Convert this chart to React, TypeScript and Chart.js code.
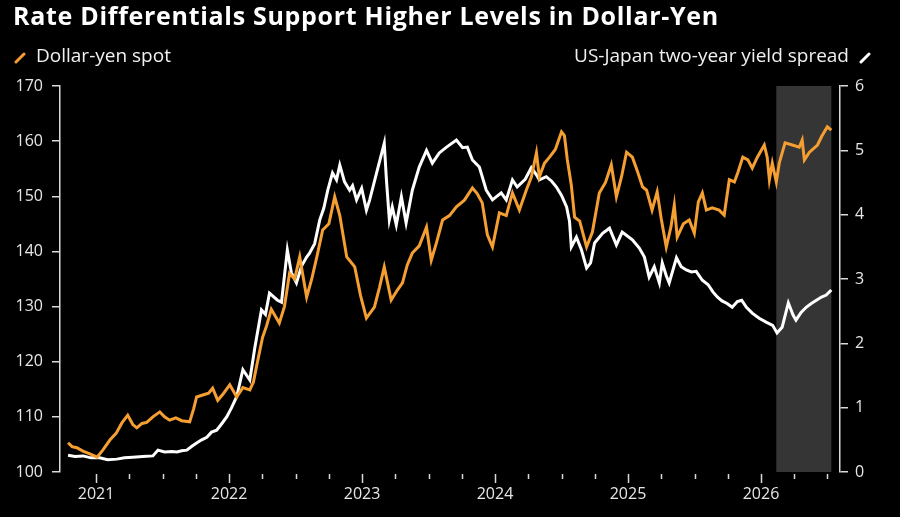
import React, { useEffect, useRef } from "react";
import { Chart, registerables } from "chart.js";

Chart.register(...registerables);

const TITLE = "Rate Differentials Support Higher Levels in Dollar-Yen";
const LEFT_LEGEND = "Dollar-yen spot";
const RIGHT_LEGEND = "US-Japan two-year yield spread";

const ORANGE = "#f59f32";
const WHITE = "#ffffff";
const FONT = "'Open Sans', 'Noto Sans', sans-serif";

// Dollar-yen spot (left axis)
const usdJpyDates = [
  "2020-10-16", "2020-10-27", "2020-11-09", "2020-11-26", "2020-12-15", "2021-01-04", "2021-01-20",
  "2021-02-08", "2021-02-25", "2021-03-13", "2021-03-29", "2021-04-12", "2021-04-23", "2021-05-07",
  "2021-05-20", "2021-06-06", "2021-06-25", "2021-07-08", "2021-07-22", "2021-08-08", "2021-08-24",
  "2021-09-15", "2021-09-26", "2021-10-04", "2021-10-23", "2021-11-06", "2021-11-17", "2021-12-01",
  "2021-12-14", "2022-01-03", "2022-01-22", "2022-02-08", "2022-02-27", "2022-03-09", "2022-03-17",
  "2022-04-03", "2022-04-14", "2022-04-27", "2022-05-19", "2022-06-02", "2022-06-16", "2022-06-30",
  "2022-07-14", "2022-08-02", "2022-08-16", "2022-08-30", "2022-09-15", "2022-10-02", "2022-10-18",
  "2022-11-01", "2022-11-20", "2022-12-12", "2022-12-28", "2023-01-13", "2023-02-04", "2023-02-18",
  "2023-03-03", "2023-03-22", "2023-04-08", "2023-04-22", "2023-05-05", "2023-05-19", "2023-06-07",
  "2023-06-27", "2023-07-10", "2023-07-24", "2023-08-10", "2023-08-29", "2023-09-17", "2023-10-09",
  "2023-10-31", "2023-11-13", "2023-11-27", "2023-12-11", "2023-12-25", "2024-01-13", "2024-02-01",
  "2024-02-18", "2024-03-08", "2024-03-27", "2024-04-10", "2024-04-24", "2024-05-02", "2024-05-16",
  "2024-05-30", "2024-06-15", "2024-07-02", "2024-07-10", "2024-07-18", "2024-07-29", "2024-08-07",
  "2024-08-21", "2024-09-09", "2024-09-25", "2024-10-14", "2024-10-31", "2024-11-16", "2024-11-30",
  "2024-12-14", "2024-12-28", "2025-01-13", "2025-01-27", "2025-02-10", "2025-02-21", "2025-03-08",
  "2025-03-22", "2025-04-02", "2025-04-16", "2025-04-29", "2025-05-08", "2025-05-16", "2025-06-02",
  "2025-06-18", "2025-07-02", "2025-07-13", "2025-07-24", "2025-08-04", "2025-08-20", "2025-09-08",
  "2025-09-22", "2025-10-06", "2025-10-20", "2025-10-30", "2025-11-12", "2025-11-26", "2025-12-08",
  "2025-12-22", "2026-01-10", "2026-01-18", "2026-01-24", "2026-02-01", "2026-02-12", "2026-02-20",
  "2026-03-08", "2026-03-28", "2026-04-16", "2026-04-24", "2026-04-30", "2026-05-14", "2026-06-05",
  "2026-06-16", "2026-07-02", "2026-07-13",
];
const usdJpyValues = [
  105.3, 104.6, 104.4, 103.8, 103.3, 102.7, 104.0,
  105.8, 107.0, 108.9, 110.3, 108.6, 108.0, 108.8,
  109.0, 110.0, 110.9, 110.0, 109.4, 109.8, 109.3,
  109.1, 111.5, 113.6, 114.0, 114.3, 115.2, 113.0,
  114.0, 115.8, 113.6, 115.3, 114.9, 116.3, 119.0,
  124.4, 126.5, 129.5, 127.0, 130.0, 136.0, 135.0,
  139.0, 131.7, 135.0, 139.0, 143.9, 145.0, 149.9,
  146.5, 139.0, 137.2, 132.0, 127.9, 129.9, 133.5,
  137.2, 131.2, 133.0, 134.3, 137.5, 139.7, 141.0,
  144.4, 138.4, 141.5, 145.7, 146.5, 148.1, 149.3,
  151.5, 150.5, 148.8, 143.0, 140.8, 147.0, 146.5,
  150.6, 147.5, 151.1, 153.5, 157.9, 153.5, 156.0,
  157.1, 158.5, 161.7, 161.0, 156.6, 152.0, 146.2,
  145.5, 140.8, 143.5, 150.6, 152.5, 155.7, 149.9,
  153.5, 158.0, 157.1, 154.5, 151.7, 151.1, 147.5,
  150.8, 146.0, 140.8, 144.5, 148.4, 142.6, 145.0,
  145.7, 143.3, 149.0, 150.6, 147.5, 147.9, 147.5,
  146.6, 153.0, 152.6, 154.4, 157.1, 156.6, 155.1,
  157.1, 159.3, 157.1, 153.0, 156.0, 152.6, 156.0,
  159.7, 159.3, 158.9, 160.2, 156.6, 158.0, 159.3,
  160.8, 162.6, 162.0,
];

// US-Japan two-year yield spread (right axis, percentage points)
const spreadDates = [
  "2020-10-16", "2020-11-04", "2020-11-26", "2020-12-18", "2021-01-11", "2021-02-02", "2021-02-27",
  "2021-03-20", "2021-04-12", "2021-05-09", "2021-06-06", "2021-06-20", "2021-07-08", "2021-07-28",
  "2021-08-11", "2021-08-24", "2021-09-07", "2021-09-21", "2021-10-04", "2021-10-18", "2021-11-01",
  "2021-11-14", "2021-11-28", "2021-12-12", "2021-12-26", "2022-01-08", "2022-01-22", "2022-02-08",
  "2022-02-27", "2022-03-13", "2022-03-31", "2022-04-11", "2022-04-22", "2022-05-14", "2022-05-25",
  "2022-06-10", "2022-06-21", "2022-07-05", "2022-07-19", "2022-08-02", "2022-08-10", "2022-08-24",
  "2022-09-07", "2022-09-18", "2022-09-29", "2022-10-12", "2022-10-23", "2022-11-01", "2022-11-14",
  "2022-11-28", "2022-12-06", "2022-12-17", "2022-12-31", "2023-01-13", "2023-01-22", "2023-02-10",
  "2023-03-03", "2023-03-09", "2023-03-17", "2023-03-25", "2023-04-05", "2023-04-19", "2023-05-02",
  "2023-05-19", "2023-06-07", "2023-06-27", "2023-07-13", "2023-08-01", "2023-08-21", "2023-09-17",
  "2023-10-04", "2023-10-17", "2023-10-31", "2023-11-19", "2023-12-08", "2023-12-25", "2024-01-18",
  "2024-02-01", "2024-02-18", "2024-03-02", "2024-03-24", "2024-04-10", "2024-04-24", "2024-05-02",
  "2024-05-21", "2024-06-05", "2024-06-18", "2024-07-02", "2024-07-16", "2024-07-24", "2024-07-29",
  "2024-08-12", "2024-08-26", "2024-09-09", "2024-09-20", "2024-10-01", "2024-10-23", "2024-11-11",
  "2024-11-30", "2024-12-16", "2025-01-01", "2025-01-13", "2025-02-01", "2025-02-15", "2025-02-28",
  "2025-03-14", "2025-03-28", "2025-04-05", "2025-04-16", "2025-04-24", "2025-05-14", "2025-05-27",
  "2025-06-10", "2025-06-24", "2025-07-07", "2025-07-24", "2025-08-09", "2025-08-22", "2025-09-03",
  "2025-09-16", "2025-09-30", "2025-10-14", "2025-10-28", "2025-11-09", "2025-11-22", "2025-12-08",
  "2025-12-27", "2026-01-15", "2026-02-02", "2026-02-14", "2026-02-28", "2026-03-17", "2026-03-30",
  "2026-04-07", "2026-04-21", "2026-05-05", "2026-05-19", "2026-06-02", "2026-06-16", "2026-06-29",
  "2026-07-13",
];
const spreadValues = [
  0.26, 0.24, 0.25, 0.22, 0.22, 0.19, 0.2,
  0.22, 0.23, 0.24, 0.25, 0.34, 0.31, 0.32,
  0.31, 0.33, 0.34, 0.4, 0.45, 0.5, 0.54,
  0.62, 0.65, 0.75, 0.86, 1.0, 1.17, 1.59,
  1.43, 1.94, 2.52, 2.45, 2.78, 2.67, 2.64,
  3.45, 3.1, 2.94, 3.2, 3.34, 3.4, 3.55,
  3.92, 4.1, 4.38, 4.65, 4.54, 4.77, 4.51,
  4.38, 4.45, 4.23, 4.41, 4.07, 4.23, 4.65,
  5.11, 4.54, 3.92, 4.12, 3.84, 4.28, 3.87,
  4.38, 4.74, 5.0, 4.8, 4.96, 5.05, 5.16,
  5.04, 5.05, 4.85, 4.74, 4.38, 4.23, 4.34,
  4.23, 4.54, 4.43, 4.55, 4.73, 4.62, 4.54,
  4.59, 4.52, 4.43, 4.3, 4.12, 3.9, 3.5,
  3.65, 3.45, 3.17, 3.25, 3.56, 3.71, 3.79,
  3.53, 3.73, 3.66, 3.61, 3.48, 3.34, 3.03,
  3.19, 2.94, 3.25, 3.05, 2.94, 3.33, 3.19,
  3.14, 3.11, 3.12, 2.98, 2.91, 2.8, 2.72,
  2.66, 2.62, 2.56, 2.65, 2.67, 2.56, 2.47,
  2.39, 2.33, 2.28, 2.16, 2.25, 2.63, 2.44,
  2.36, 2.48, 2.56, 2.62, 2.67, 2.72, 2.75,
  2.83,
];

const yearTicks = [2021, 2022, 2023, 2024, 2025, 2026];
const leftTicks = [100, 110, 120, 130, 140, 150, 160, 170];
const rightTicks = [0, 1, 2, 3, 4, 5, 6];
const shadeStart = "2026-02-12";
const shadeEnd = "2026-07-13";
const xMin = 2020.729;
const xMax = 2026.594;

function toYear(d: string): number {
  const [y, m, dd] = d.split("-").map(Number);
  const start = Date.UTC(y, 0, 1);
  const end = Date.UTC(y + 1, 0, 1);
  return y + (Date.UTC(y, m - 1, dd) - start) / (end - start);
}

const decorPlugin = {
  id: "decor",
  beforeDatasetsDraw(chart: any) {
    const { ctx, chartArea, scales } = chart;
    const x0 = scales.x.getPixelForValue(toYear(shadeStart));
    const x1 = scales.x.getPixelForValue(toYear(shadeEnd));
    ctx.save();
    ctx.fillStyle = "#353535";
    ctx.fillRect(x0, chartArea.top, x1 - x0, chartArea.bottom - chartArea.top);
    ctx.restore();
  },
  afterDraw(chart: any) {
    const { ctx, chartArea, scales } = chart;
    ctx.save();
    ctx.strokeStyle = "#d9d9d9";
    ctx.lineWidth = 1.5;
    yearTicks.forEach((yr) => {
      [0, 0.25, 0.5, 0.75].forEach((q) => {
        const v = yr + q;
        if (v > xMax) return;
        const x = Math.round(scales.x.getPixelForValue(v)) + 0.5;
        const len = q === 0 ? 9 : 5;
        ctx.beginPath();
        ctx.moveTo(x, chartArea.bottom + 2);
        ctx.lineTo(x, chartArea.bottom + 2 + len);
        ctx.stroke();
      });
    });
    ctx.restore();
  },
};

function Slash({ color }: { color: string }) {
  return (
    <svg width="14" height="14" viewBox="0 0 14 14" style={{ display: "block", marginTop: 4 }}>
      <line x1="3" y1="12" x2="11" y2="4" stroke={color} strokeWidth="3" strokeLinecap="round" />
    </svg>
  );
}

export default function App() {
  const canvasRef = useRef<HTMLCanvasElement | null>(null);

  useEffect(() => {
    document.body.style.margin = "0";
    document.body.style.background = "#000";
    const canvas = canvasRef.current;
    if (!canvas) return;
    const chart = new Chart(canvas, {
      type: "line",
      data: {
        datasets: [
          {
            label: LEFT_LEGEND,
            data: usdJpyDates.map((d, i) => ({ x: toYear(d), y: usdJpyValues[i] })),
            borderColor: ORANGE,
            borderWidth: 3,
            pointRadius: 0,
            tension: 0,
            yAxisID: "y",
          },
          {
            label: RIGHT_LEGEND,
            data: spreadDates.map((d, i) => ({ x: toYear(d), y: spreadValues[i] })),
            borderColor: WHITE,
            borderWidth: 3,
            pointRadius: 0,
            tension: 0,
            yAxisID: "y1",
          },
        ],
      },
      options: {
        responsive: false,
        animation: false,
        devicePixelRatio: 1,
        layout: { padding: { top: 86, left: 0, right: 0, bottom: 0 } },
        plugins: { legend: { display: false }, tooltip: { enabled: false }, title: { display: false } },
        scales: {
          x: {
            type: "linear",
            min: xMin,
            max: xMax,
            afterBuildTicks: (s: any) => {
              s.ticks = yearTicks.map((v) => ({ value: v }));
            },
            ticks: {
              color: "#e6e6e6",
              font: { family: FONT, size: 16 },
              padding: 13,
              maxRotation: 0,
              autoSkip: false,
              callback: (v: any) => String(v),
            },
            grid: { display: false, drawTicks: false },
            border: { display: false },
            afterFit: (s: any) => {
              s.height = 45;
            },
          },
          y: {
            position: "left",
            min: 100,
            max: 170,
            afterBuildTicks: (s: any) => {
              s.ticks = leftTicks.map((v) => ({ value: v }));
            },
            ticks: { color: "#e6e6e6", font: { family: FONT, size: 16 }, padding: 9 },
            grid: { drawOnChartArea: false, color: "#d9d9d9", tickLength: 8, lineWidth: 1.5 },
            border: { color: "#d9d9d9", width: 1.5 },
            afterFit: (s: any) => {
              s.width = 60;
            },
          },
          y1: {
            position: "right",
            min: 0,
            max: 6,
            afterBuildTicks: (s: any) => {
              s.ticks = rightTicks.map((v) => ({ value: v }));
            },
            ticks: { color: "#e6e6e6", font: { family: FONT, size: 16 }, padding: 7 },
            grid: { drawOnChartArea: false, color: "#d9d9d9", tickLength: 8, lineWidth: 1.5 },
            border: { color: "#d9d9d9", width: 1.5 },
            afterFit: (s: any) => {
              s.width = 60;
            },
          },
        },
      },
      plugins: [decorPlugin],
    });
    return () => chart.destroy();
  }, []);

  return (
    <div style={{ position: "fixed", left: 0, top: 0, width: 900, height: 517, background: "#000", overflow: "hidden" }}>
      <canvas ref={canvasRef} width={900} height={517} style={{ position: "absolute", left: 0, top: 0, width: 900, height: 517 }} />
      <div
        style={{
          position: "absolute",
          left: 13,
          top: 3,
          color: "#fff",
          fontFamily: FONT,
          fontWeight: 700,
          fontSize: 25,
          lineHeight: "25px",
          letterSpacing: 0.7,
          whiteSpace: "nowrap",
        }}
      >
        {TITLE}
      </div>
      <div style={{ position: "absolute", left: 13, top: 46, display: "flex", alignItems: "flex-start", gap: 9, color: "#f0f0f0", fontFamily: FONT, fontSize: 19, lineHeight: "19px", whiteSpace: "nowrap" }}>
        <Slash color={ORANGE} />
        <span>{LEFT_LEGEND}</span>
      </div>
      <div style={{ position: "absolute", right: 28, top: 46, display: "flex", alignItems: "flex-start", gap: 9, color: "#f0f0f0", fontFamily: FONT, fontSize: 19, lineHeight: "19px", whiteSpace: "nowrap" }}>
        <span>{RIGHT_LEGEND}</span>
        <Slash color={WHITE} />
      </div>
    </div>
  );
}
